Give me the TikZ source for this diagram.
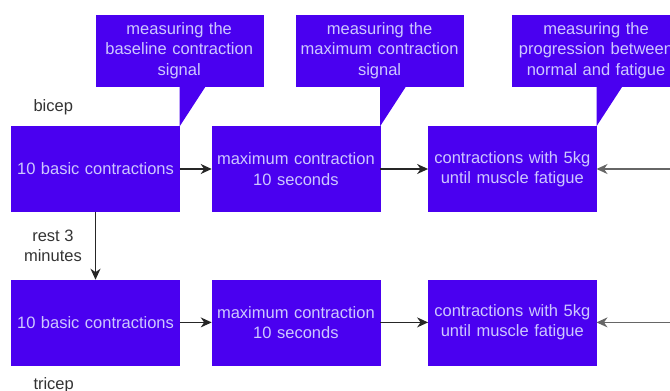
\documentclass[tikz,border=0pt]{standalone}
\usepackage{fontspec}
\setmainfont{Liberation Sans}
\usetikzlibrary{positioning,arrows.meta}
\definecolor{stepfill}{RGB}{74,0,240}
\definecolor{steptext}{RGB}{205,200,255}
\definecolor{labelgray}{RGB}{51,51,51}

\begin{document}
\begin{tikzpicture}[
  x=1pt, y=1pt,
  every node/.style={font=\fontsize{16.5}{20.5}\selectfont},
  stepbox/.style={fill=stepfill, draw=stepfill, text=steptext, minimum width=168pt,
                  minimum height=85pt, inner sep=0pt, align=center, text width=164pt},
  note/.style={fill=stepfill, draw=stepfill, text=steptext, minimum width=167pt,
               minimum height=71pt, inner sep=0pt, align=center, text width=163pt},
  lbl/.style={text=labelgray, inner sep=0pt, align=center},
  flow/.style={-{Stealth[length=11pt, width=10pt, inset=3.5pt]}, line width=1.4pt, black!85},
  feed/.style={-{Stealth[length=11pt, width=10pt, inset=3.5pt]}, line width=1.4pt, black!60}
]
  \useasboundingbox (0,0) rectangle (670,-391);

  % bicep row
  \node[stepbox] (bic1) at (95.5,-169) {10 basic contractions};
  \node[stepbox, right=32pt of bic1] (bic2) {maximum contraction\\10 seconds};
  \node[stepbox, right=48pt of bic2] (bic3) {contractions with 5kg\\until muscle fatigue};

  % tricep row
  \node[stepbox, below=68pt of bic1] (tri1) {10 basic contractions};
  \node[stepbox, right=32pt of tri1] (tri2) {maximum contraction\\10 seconds};
  \node[stepbox, right=48pt of tri2] (tri3) {contractions with 5kg\\until muscle fatigue};

  % callouts above the bicep row
  \node[note, above right=40pt and 0pt of bic1.north] (base)
    {measuring the\\baseline contraction\\signal};
  \node[note, above right=40pt and 0pt of bic2.north] (maxim)
    {measuring the\\maximum contraction\\signal};
  \node[note, above right=40pt and 0pt of bic3.north] (prog)
    {measuring the\\progression between\\normal and fatigue};
  \foreach \c/\b in {base/bic1, maxim/bic2, prog/bic3}
    \fill[stepfill] (\b.north east |- \c.south) -- (\b.north east)
      -- ([xshift=26pt]\b.north east |- \c.south) -- cycle;

  \node[lbl, anchor=base west] (bicep) at ([shift={(22pt,15pt)}]bic1.north west) {bicep};
  \node[lbl, anchor=base west] (tricep) at ([shift={(22pt,-24pt)}]tri1.south west) {tricep};

  \draw[flow] (bic1) -- (bic2);
  \draw[flow] (bic2) -- (bic3);
  \draw[flow] (tri1) -- (tri2);
  \draw[flow] (tri2) -- (tri3);
  \draw[flow] (bic1) -- node[lbl, left=13pt] (rest) {rest 3\\minutes} (tri1);

  % feeds coming in from the right edge
  \coordinate (inbic) at ([xshift=76pt]bic3.east);
  \coordinate (intri) at ([xshift=76pt]tri3.east);
  \draw[feed] (inbic) -- (bic3);
  \draw[feed] (intri) -- (tri3);
\end{tikzpicture}
\end{document}
